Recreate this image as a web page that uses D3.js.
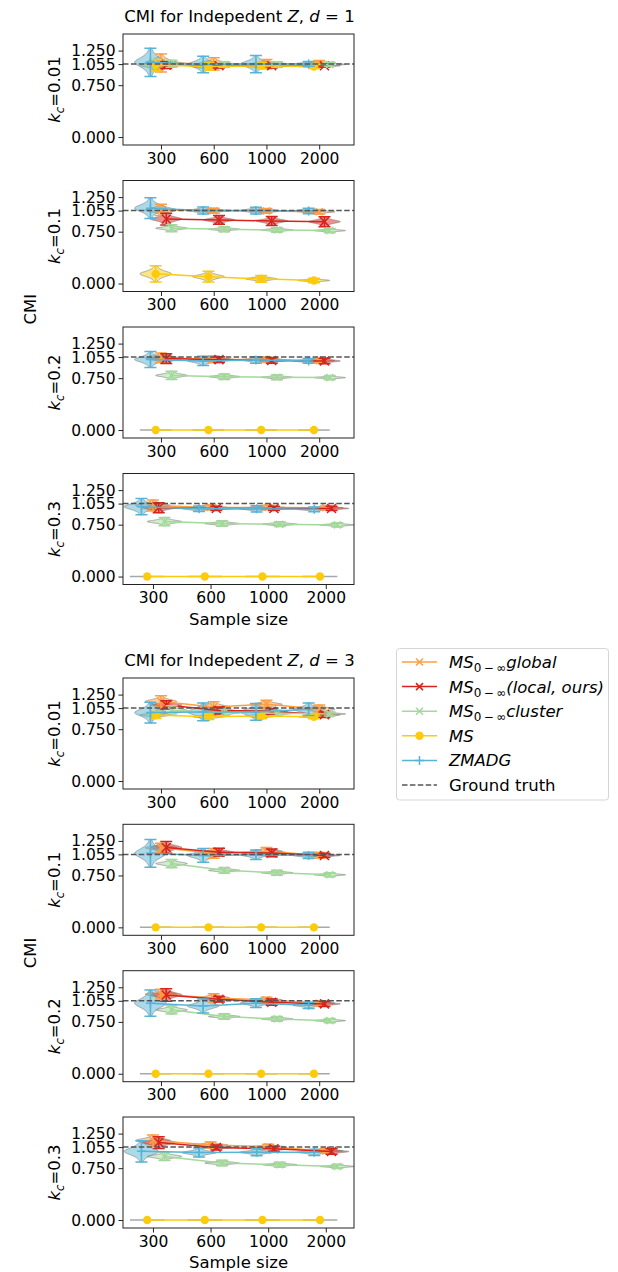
<!DOCTYPE html>
<html>
<head>
<meta charset="utf-8">
<script src="https://cdn.jsdelivr.net/npm/d3@7"></script>
<style>
  body { margin: 0; background: #fff; }
  svg { display: block; }
  text { font-family: "DejaVu Sans", sans-serif; fill: #000; }
</style>
</head>
<body>
<svg id="chart" width="618" height="1272"></svg>
<script>
// ---- data ----
const sampleSizes = ["300", "600", "1000", "2000"];
const kcLabels = ["0.01", "0.1", "0.2", "0.3"];
const dimLabels = ["1", "3"];
const yTickValues = [0, 0.75, 1.055, 1.25];
const groundTruth = 1.055;

// rows: d=1 (k_c = 0.01, 0.1, 0.2, 0.3), then d=3 (same order); columns: sample sizes
const globalMean = [
  [1.070, 1.058, 1.055, 1.058],
  [1.065, 1.053, 1.050, 1.037],
  [1.045, 1.023, 1.020, 1.004],
  [1.027, 1.000, 1.000, 0.995],
  [1.150, 1.070, 1.110, 1.040],
  [1.150, 1.070, 1.100, 1.044],
  [1.150, 1.097, 1.070, 1.020],
  [1.150, 1.085, 1.060, 1.000]
];
const globalSd = [
  [0.130, 0.087, 0.067, 0.048],
  [0.080, 0.037, 0.035, 0.033],
  [0.070, 0.048, 0.036, 0.030],
  [0.080, 0.035, 0.030, 0.025],
  [0.083, 0.078, 0.057, 0.060],
  [0.066, 0.070, 0.056, 0.040],
  [0.070, 0.060, 0.035, 0.035],
  [0.080, 0.045, 0.037, 0.030]
];
const localMean = [
  [1.040, 1.030, 1.030, 1.030],
  [0.933, 0.920, 0.905, 0.895],
  [1.033, 1.018, 1.006, 0.999],
  [0.996, 0.985, 0.985, 0.985],
  [1.100, 1.020, 1.010, 0.960],
  [1.155, 1.086, 1.076, 1.040],
  [1.140, 1.078, 1.035, 1.010],
  [1.120, 1.050, 1.030, 0.990]
];
const localSd = [
  [0.050, 0.030, 0.030, 0.020],
  [0.085, 0.063, 0.065, 0.072],
  [0.072, 0.043, 0.041, 0.039],
  [0.072, 0.030, 0.030, 0.030],
  [0.060, 0.050, 0.040, 0.040],
  [0.085, 0.056, 0.056, 0.030],
  [0.090, 0.040, 0.045, 0.036],
  [0.085, 0.036, 0.036, 0.040]
];
const clusterMean = [
  [1.060, 1.050, 1.050, 1.050],
  [0.800, 0.785, 0.775, 0.766],
  [0.790, 0.772, 0.763, 0.758],
  [0.795, 0.766, 0.757, 0.747],
  [1.020, 0.990, 0.980, 0.970],
  [0.922, 0.824, 0.789, 0.760],
  [0.924, 0.827, 0.793, 0.768],
  [0.920, 0.824, 0.800, 0.775]
];
const clusterSd = [
  [0.050, 0.040, 0.040, 0.030],
  [0.050, 0.035, 0.035, 0.030],
  [0.060, 0.040, 0.035, 0.030],
  [0.060, 0.040, 0.035, 0.030],
  [0.070, 0.050, 0.040, 0.030],
  [0.060, 0.040, 0.035, 0.030],
  [0.060, 0.040, 0.035, 0.030],
  [0.060, 0.040, 0.035, 0.030]
];
const msMean = [
  [1.040, 1.020, 1.030, 1.020],
  [0.140, 0.100, 0.068, 0.045],
  [0, 0, 0, 0],
  [0, 0, 0, 0],
  [0.956, 0.930, 0.940, 0.930],
  [0, 0, 0, 0],
  [0, 0, 0, 0],
  [0, 0, 0, 0]
];
const msSd = [
  [0.080, 0.050, 0.040, 0.030],
  [0.116, 0.078, 0.050, 0.033],
  [0, 0, 0, 0],
  [0, 0, 0, 0],
  [0.050, 0.040, 0.040, 0.030],
  [0, 0, 0, 0],
  [0, 0, 0, 0],
  [0, 0, 0, 0]
];
const zmadgMean = [
  [1.080, 1.050, 1.055, 1.058],
  [1.090, 1.056, 1.055, 1.050],
  [1.020, 1.000, 1.013, 0.999],
  [1.010, 0.980, 0.980, 0.972],
  [0.990, 1.000, 1.000, 1.037],
  [1.070, 1.040, 1.050, 1.040],
  [1.020, 0.980, 1.020, 0.990],
  [0.993, 0.975, 0.980, 0.980]
];
const zmadgSd = [
  [0.205, 0.120, 0.124, 0.034],
  [0.150, 0.050, 0.050, 0.040],
  [0.115, 0.068, 0.048, 0.034],
  [0.118, 0.040, 0.045, 0.034],
  [0.150, 0.127, 0.120, 0.090],
  [0.200, 0.100, 0.070, 0.045],
  [0.190, 0.100, 0.063, 0.045],
  [0.155, 0.065, 0.050, 0.045]
];

// ---- series styling (drawing order = legend order) ----
const methods = [
  { key: "global",  mean: globalMean,  sd: globalSd,  color: "#ff9f40", marker: "x", offset: 0.0 },
  { key: "local",   mean: localMean,   sd: localSd,   color: "#d7231e", marker: "X", offset: 0.1 },
  { key: "cluster", mean: clusterMean, sd: clusterSd, color: "#a3d99a", marker: "x", offset: 0.2 },
  { key: "ms",      mean: msMean,      sd: msSd,      color: "#fccb0c", marker: "o", offset: -0.1 },
  { key: "zmadg",   mean: zmadgMean,   sd: zmadgSd,   color: "#56b4d6", marker: "+", offset: -0.2 }
];

// ---- layout ----
const svg = d3.select("#chart");
const left = 123, right = 354, panelH = 111;
const panelTops = [34, 180.5, 327, 473.5, 678, 824.3, 970.7, 1117];
const wideDomain = [-0.72, 3.66], narrowDomain = [-0.52, 3.49];
const violinHalf = 0.3;
const tickFont = "15.5px", labelFont = "16.5px";

// violin body: peaked density shape around the mean, spread set by the sd
function violinPath(x, y, pos, m, s) {
  const pts = d3.range(-40, 41).map(i => {
    const t = i / 40;
    const w = violinHalf / Math.cosh(3.2 * t);
    return { y: m + t * s, w };
  });
  return d3.area()
    .y(d => y(d.y))
    .x0(d => x(pos - d.w))
    .x1(d => x(pos + d.w))
    .curve(d3.curveLinear)(pts);
}

function drawMarker(g, type, cx, cy, color) {
  if (type === "o") {
    g.append("circle").attr("cx", cx).attr("cy", cy).attr("r", 4.2).attr("fill", color);
  } else if (type === "x" || type === "X") {
    const r = type === "X" ? 4.5 : 3.5;
    g.append("path")
      .attr("d", `M${cx - r},${cy - r}L${cx + r},${cy + r}M${cx - r},${cy + r}L${cx + r},${cy - r}`)
      .attr("stroke", color).attr("stroke-width", 1.5).attr("fill", "none");
  } else if (type === "+") {
    const r = 4.5;
    g.append("path")
      .attr("d", `M${cx - r},${cy}L${cx + r},${cy}M${cx},${cy - r}L${cx},${cy + r}`)
      .attr("stroke", color).attr("stroke-width", 1.5).attr("fill", "none");
  }
}

function drawPanel(idx) {
  const top = panelTops[idx];
  const bottom = top + panelH;
  const k = idx % 4;
  const x = d3.scaleLinear().domain(k === 3 ? narrowDomain : wideDomain).range([left, right]);
  const y = d3.scaleLinear().domain([-0.115, 1.49]).range([bottom, top]);

  const clipId = "clip" + idx;
  svg.append("clipPath").attr("id", clipId)
    .append("rect").attr("x", left).attr("y", top).attr("width", right - left).attr("height", panelH);
  const plot = svg.append("g").attr("clip-path", `url(#${clipId})`);

  // violin bodies
  methods.forEach(mth => {
    const means = mth.mean[idx], sds = mth.sd[idx];
    means.forEach((m, i) => {
      const pos = i + mth.offset;
      if (sds[i] === 0) {
        plot.append("line")
          .attr("x1", x(pos - violinHalf)).attr("x2", x(pos + violinHalf))
          .attr("y1", y(m)).attr("y2", y(m))
          .attr("stroke", "#a8a8a8").attr("stroke-width", 1.5);
      } else {
        plot.append("path")
          .attr("d", violinPath(x, y, pos, m, sds[i]))
          .attr("fill", mth.color).attr("fill-opacity", 0.5)
          .attr("stroke", "#7f7f7f").attr("stroke-opacity", 0.7).attr("stroke-width", 0.9);
      }
    });
  });

  // mean lines, error bars and markers
  methods.forEach(mth => {
    const means = mth.mean[idx], sds = mth.sd[idx];
    const pts = means.map((m, i) => [x(i + mth.offset), y(m)]);
    plot.append("path").attr("d", d3.line()(pts))
      .attr("fill", "none").attr("stroke", mth.color).attr("stroke-width", 1.5);
    means.forEach((m, i) => {
      const cx = x(i + mth.offset);
      const s = sds[i];
      if (s > 0) {
        const y1 = y(m + s), y2 = y(m - s);
        plot.append("path")
          .attr("d", `M${cx},${y1}L${cx},${y2}M${cx - 6},${y1}L${cx + 6},${y1}M${cx - 6},${y2}L${cx + 6},${y2}`)
          .attr("stroke", mth.color).attr("stroke-width", 1.5).attr("fill", "none");
      }
      drawMarker(plot, mth.marker, cx, y(m), mth.color);
    });
  });

  // ground truth
  plot.append("line")
    .attr("x1", left).attr("x2", right)
    .attr("y1", y(groundTruth)).attr("y2", y(groundTruth))
    .attr("stroke", "#555").attr("stroke-width", 1.5).attr("stroke-dasharray", "5.5,2.4");

  // frame
  svg.append("rect").attr("x", left).attr("y", top).attr("width", right - left).attr("height", panelH)
    .attr("fill", "none").attr("stroke", "#222").attr("stroke-width", 1);

  // y axis
  const yAxis = svg.append("g").attr("transform", `translate(${left},0)`)
    .call(d3.axisLeft(y).tickValues(yTickValues).tickFormat(d3.format(".3f")).tickSizeOuter(0).tickSize(4.5).tickPadding(3));
  yAxis.select(".domain").remove();
  yAxis.selectAll("line").attr("stroke", "#222");
  yAxis.selectAll("text").attr("font-size", tickFont).attr("font-family", "DejaVu Sans").attr("fill", "#000");

  // x axis
  const xAxis = svg.append("g").attr("transform", `translate(0,${bottom})`)
    .call(d3.axisBottom(x).tickValues([0, 1, 2, 3]).tickFormat(i => sampleSizes[i]).tickSizeOuter(0).tickSize(4.5).tickPadding(3));
  xAxis.select(".domain").remove();
  xAxis.selectAll("line").attr("stroke", "#222");
  xAxis.selectAll("text").attr("font-size", tickFont).attr("font-family", "DejaVu Sans").attr("fill", "#000");

  // k_c row label
  const ly = (top + bottom) / 2;
  const lab = svg.append("text")
    .attr("transform", `translate(60,${ly}) rotate(-90)`)
    .attr("text-anchor", "middle").attr("font-size", labelFont);
  lab.append("tspan").attr("font-style", "italic").text("k");
  lab.append("tspan").attr("font-style", "italic").attr("font-size", "11.5px").attr("dy", 4).text("c");
  lab.append("tspan").attr("dy", -4).text("=" + kcLabels[k]);
}

d3.range(8).forEach(drawPanel);

// group titles, axis labels
[0, 1].forEach(g => {
  const top = panelTops[g * 4];
  const bottom = panelTops[g * 4 + 3] + panelH;
  const t = svg.append("text").attr("x", (left + right) / 2 + 1).attr("y", top - 12)
    .attr("text-anchor", "middle").attr("font-size", "16.5px");
  t.append("tspan").text("CMI for Indepedent ");
  t.append("tspan").attr("font-style", "italic").text("Z");
  t.append("tspan").text(", ");
  t.append("tspan").attr("font-style", "italic").text("d");
  t.append("tspan").text(" = " + dimLabels[g]);

  svg.append("text").attr("x", (left + right) / 2).attr("y", bottom + 40)
    .attr("text-anchor", "middle").attr("font-size", labelFont).text("Sample size");

  svg.append("text")
    .attr("transform", `translate(36,${(top + bottom) / 2}) rotate(-90)`)
    .attr("text-anchor", "middle").attr("font-size", labelFont).text("CMI");
});

// legend
const legendItems = [
  { color: "#ff9f40", marker: "x", ms: true, sub: "global" },
  { color: "#d7231e", marker: "x", ms: true, sub: "(local, ours)" },
  { color: "#a3d99a", marker: "x", ms: true, sub: "cluster" },
  { color: "#fccb0c", marker: "o", label: "MS", italic: true },
  { color: "#56b4d6", marker: "+", label: "ZMADG", italic: true },
  { color: "#555", dashed: true, label: "Ground truth" }
];
const lg = svg.append("g");
lg.append("rect").attr("x", 396.5).attr("y", 648.5).attr("width", 212).attr("height", 151.5)
  .attr("rx", 3).attr("fill", "#fff").attr("stroke", "#d5d5d5").attr("stroke-width", 1);
legendItems.forEach((it, i) => {
  const cy = 662 + i * 24.6;
  const line = lg.append("line").attr("x1", 402).attr("x2", 437).attr("y1", cy).attr("y2", cy)
    .attr("stroke", it.color).attr("stroke-width", 1.5);
  if (it.dashed) line.attr("stroke-dasharray", "5.5,2.4");
  else drawMarker(lg, it.marker, 419.5, cy, it.color);
  const txt = lg.append("text").attr("x", 449).attr("y", cy + 6).attr("font-size", "16.5px");
  if (it.ms) {
    txt.append("tspan").attr("font-style", "italic").text("MS");
    txt.append("tspan").attr("font-size", "12px").attr("dy", 4).text("0\u2009\u2212\u2009\u221E");
    txt.append("tspan").attr("font-style", "italic").attr("dy", -4).text(it.sub);
  } else {
    txt.append("tspan").attr("font-style", it.italic ? "italic" : "normal").text(it.label);
  }
});
</script>
</body>
</html>
